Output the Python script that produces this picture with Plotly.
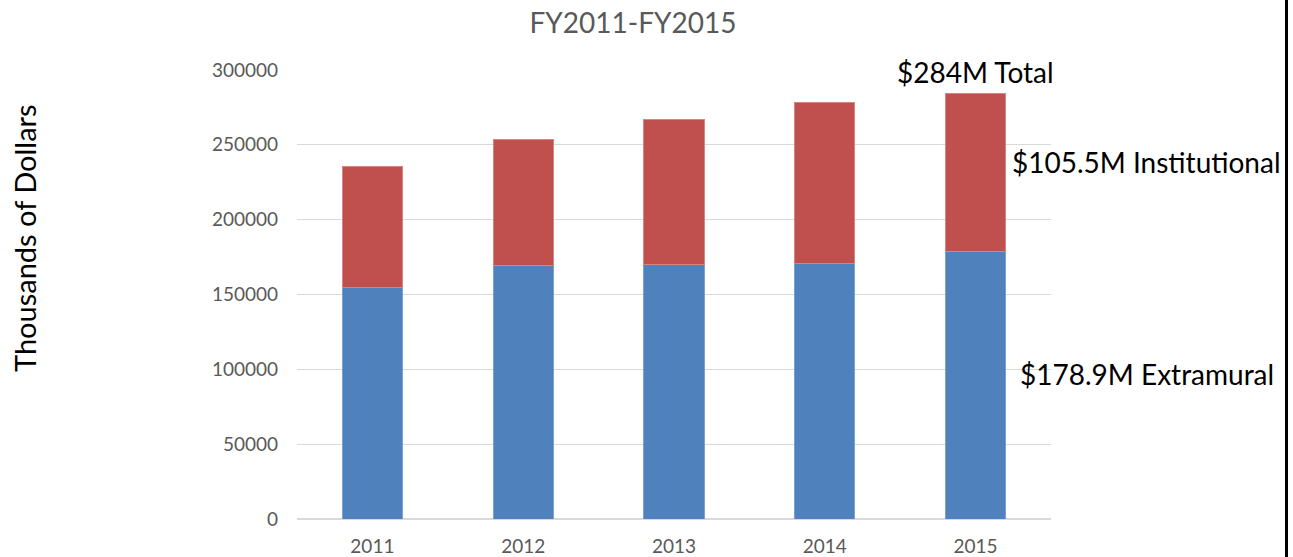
import plotly.graph_objects as go

# Funding by fiscal year, thousands of dollars
years = ["2011", "2012", "2013", "2014", "2015"]
extramural = [154700, 169600, 170300, 170900, 178900]
institutional = [80700, 84100, 96300, 107500, 105500]

y_ticks = [0, 50000, 100000, 150000, 200000, 250000, 300000]

totals = [e + i for e, i in zip(extramural, institutional)]

BLUE = "#4F81BD"
RED = "#C0504D"
FONT = "Lato"

fig = go.Figure()
fig.add_trace(go.Bar(
    x=years, y=extramural, name="Extramural",
    marker=dict(color=BLUE, line=dict(color="#7BA0CF", width=1)),
))
fig.add_trace(go.Bar(
    x=years, y=institutional, name="Institutional",
    marker=dict(color=RED, line=dict(color="#D98482", width=1)),
))

W, H = 1293, 557
L, R, T, B = 297, 242, 70, 38
pw, ph = W - L - R, H - T - B

fig.update_layout(
    width=W, height=H,
    barmode="stack", bargap=0.6,
    showlegend=False,
    plot_bgcolor="white", paper_bgcolor="white",
    margin=dict(l=L, r=R, t=T, b=B, pad=0, autoexpand=False),
    font=dict(family=FONT, color="#595959"),
    title=dict(text="FY2011-FY2015", x=633 / W, xanchor="center",
               y=1 - 23 / H, yanchor="middle",
               font=dict(family=FONT, size=28, color="#595959")),
)

fig.update_xaxes(
    type="category", automargin=False,
    range=[-0.5, len(years) - 0.5], autorange=False,
    showgrid=False, showline=False, ticks="",
    tickfont=dict(family=FONT, size=19, color="#595959"),
    ticklabelstandoff=14,
)
fig.update_yaxes(
    automargin=False, autorange=False,
    range=[0, 300000], tickvals=y_ticks, ticktext=[str(v) for v in y_ticks],
    showgrid=True, gridcolor="#D9D9D9", gridwidth=1,
    zeroline=True, zerolinecolor="#D9D9D9", zerolinewidth=2,
    showline=False, ticks="",
    tickfont=dict(family=FONT, size=19, color="#595959"),
    ticklabelstandoff=18,
)

# labels beside the last bar (placed by category index)
last_i = len(years) - 1
ann_font = dict(family=FONT, size=28, color="black")
fig.add_annotation(x=last_i, y=totals[-1], xref="x", yref="y",
                   text="$%dM Total" % round(totals[-1] / 1000),
                   showarrow=False, xanchor="center", yanchor="bottom",
                   yshift=2, font=ann_font)
fig.add_annotation(x=last_i, y=extramural[-1] + institutional[-1] / 2, xref="x", yref="y",
                   text="$%.1fM Institutional" % (institutional[-1] / 1000),
                   showarrow=False, xanchor="left", yanchor="middle",
                   xshift=34, yshift=10, font=ann_font)
fig.add_annotation(x=last_i, y=extramural[-1] / 2, xref="x", yref="y",
                   text="$%.1fM Extramural" % (extramural[-1] / 1000),
                   showarrow=False, xanchor="left", yanchor="middle",
                   xshift=42, yshift=11, font=ann_font)

# vertical axis caption
fig.add_annotation(x=(24 - L) / pw, y=(H - B - 238) / ph, xref="paper", yref="paper",
                   text="Thousands of Dollars", textangle=-90, showarrow=False,
                   xanchor="center", yanchor="middle",
                   font=dict(family=FONT, size=29, color="black"))

# frame edge on the right
fig.add_shape(type="line", xref="paper", yref="paper",
              x0=(1286.5 - L) / pw, x1=(1286.5 - L) / pw,
              y0=-B / ph - 0.01, y1=1 + T / ph + 0.01,
              line=dict(color="black", width=3))

fig.write_html("out.html")
